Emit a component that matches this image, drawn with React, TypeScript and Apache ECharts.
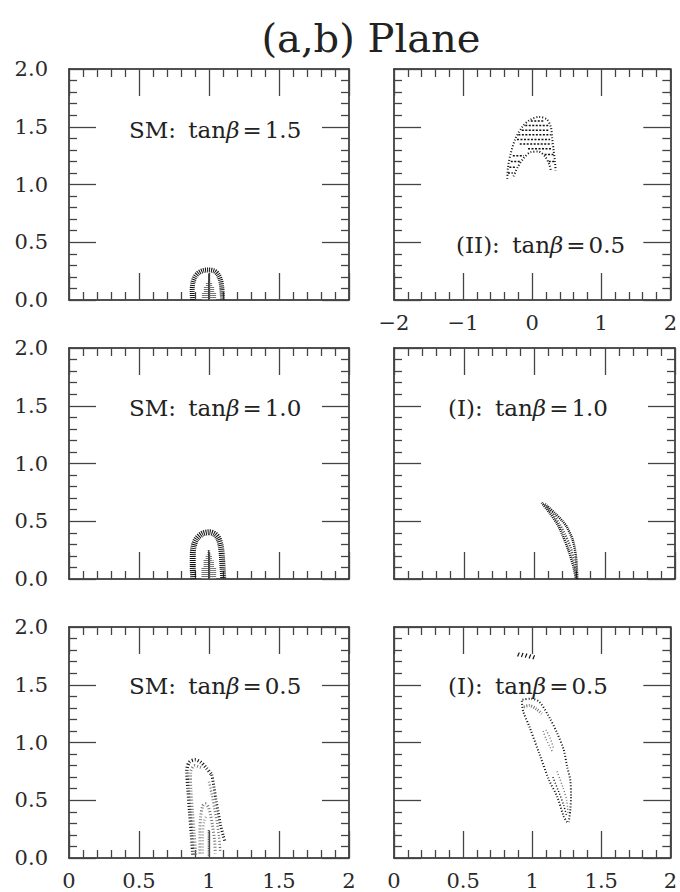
import React, { useEffect, useRef } from 'react';
import * as echarts from 'echarts';

const TITLE = '(a,b) Plane';
const PANEL_LABELS = ['SM:', '(II):', 'SM:', '(I):', 'SM:', '(I):'];
const PANEL_TANB = ['1.5', '0.5', '1.0', '1.0', '0.5', '0.5'];

// Panel 1: SM tanβ = 1.5
const SM15_ARCH = [[0.882, 0], [0.880, 0.08], [0.885, 0.15], [0.90, 0.20], [0.925, 0.235], [0.96, 0.255], [1.0, 0.26], [1.04, 0.25], [1.065, 0.22], [1.083, 0.17], [1.092, 0.10], [1.097, 0]];
const SM15_CORE_X = [0.958, 0.972, 0.986, 1.0, 1.014, 1.028, 1.042];
const SM15_CORE_TOP = [0.07, 0.12, 0.15, 0.16, 0.15, 0.12, 0.06];
const SM15_SPINE = [[0.998, 0], [0.998, 0.23]];

// Panel 2: (II) tanβ = 0.5
const II05_OUTER = [[-0.36, 1.05], [-0.35, 1.15], [-0.31, 1.27], [-0.24, 1.40], [-0.14, 1.50], [-0.03, 1.56], [0.10, 1.585], [0.21, 1.565], [0.27, 1.50], [0.29, 1.40], [0.31, 1.30], [0.33, 1.20], [0.34, 1.12]];
const II05_INNER = [[-0.27, 1.07], [-0.21, 1.15], [-0.12, 1.23], [-0.02, 1.28], [0.09, 1.285], [0.19, 1.24], [0.25, 1.17], [0.27, 1.12]];
const II05_ROW_Y = [1.55, 1.51, 1.47, 1.43, 1.39, 1.35, 1.31, 1.25, 1.20, 1.15, 1.10, 1.26, 1.20];
const II05_ROW_X0 = [-0.02, -0.10, -0.15, -0.20, -0.22, -0.18, -0.06, -0.28, -0.31, -0.33, -0.35, 0.18, 0.24];
const II05_ROW_X1 = [0.18, 0.24, 0.25, 0.27, 0.26, 0.28, 0.29, -0.12, -0.18, -0.23, -0.28, 0.31, 0.32];

// Panel 3: SM tanβ = 1.0
const SM10_ARCH = [[0.888, 0], [0.884, 0.1], [0.884, 0.2], [0.89, 0.28], [0.91, 0.345], [0.95, 0.39], [1.0, 0.405], [1.04, 0.39], [1.068, 0.35], [1.085, 0.28], [1.092, 0.2], [1.097, 0.1], [1.102, 0]];
const SM10_CORE_X = [0.955, 0.97, 0.985, 0.998, 1.012, 1.027, 1.042];
const SM10_CORE_TOP = [0.10, 0.17, 0.21, 0.25, 0.21, 0.16, 0.10];
const SM10_SPINE = [[0.998, 0], [0.998, 0.25]];

// Panel 4: (I) tanβ = 1.0
const I10_LEFT = [[1.051, 0.66], [1.11, 0.569], [1.16, 0.48], [1.194, 0.396], [1.241, 0.251], [1.277, 0.107], [1.295, 0]];
const I10_MID = [[1.06, 0.655], [1.13, 0.565], [1.18, 0.47], [1.215, 0.39], [1.255, 0.28], [1.285, 0.14], [1.30, 0]];
const I10_RIGHT = [[1.075, 0.649], [1.146, 0.569], [1.20, 0.50], [1.229, 0.453], [1.272, 0.338], [1.295, 0.193], [1.305, 0]];

// Panel 5: SM tanβ = 0.5
const SM05_OUTER = [[0.885, 0.03], [0.875, 0.2], [0.862, 0.4], [0.85, 0.6], [0.842, 0.76], [0.86, 0.83], [0.9, 0.85], [0.94, 0.83], [0.98, 0.78], [1.02, 0.72]];
const SM05_LEFT2 = [[0.905, 0.03], [0.895, 0.2], [0.882, 0.4], [0.87, 0.6], [0.868, 0.74], [0.9, 0.8], [0.95, 0.78]];
const SM05_RIGHT = [[1.02, 0.72], [1.035, 0.62], [1.05, 0.5], [1.065, 0.4], [1.08, 0.3], [1.1, 0.2], [1.115, 0.14]];
const SM05_RIGHT2 = [[1.0, 0.66], [1.02, 0.55], [1.04, 0.42], [1.058, 0.3], [1.072, 0.18], [1.08, 0.06]];
const SM05_INNER = [[0.935, 0.04], [0.935, 0.2], [0.94, 0.35], [0.955, 0.45], [0.975, 0.47], [0.995, 0.44], [1.01, 0.38], [1.025, 0.28], [1.04, 0.15], [1.045, 0.04]];
const SM05_INNER2 = [[0.955, 0.04], [0.955, 0.18], [0.965, 0.32], [0.98, 0.36]];
const SM05_SPINE = [[0.998, 0], [0.998, 0.25]];

// Panel 6: (I) tanβ = 0.5
const I05_MARK_X = [0.895, 0.922, 0.95, 0.978, 1.005];
const I05_MARK_Y = [1.745, 1.74, 1.735, 1.728, 1.72];
const I05_LEFT = [[0.925, 1.36], [0.935, 1.27], [0.98, 1.137], [1.051, 0.906], [1.122, 0.675], [1.181, 0.531], [1.229, 0.358], [1.253, 0.31]];
const I05_RIGHT = [[0.93, 1.37], [0.99, 1.38], [1.051, 1.353], [1.122, 1.223], [1.181, 1.08], [1.229, 0.935], [1.253, 0.79], [1.276, 0.675], [1.281, 0.531], [1.276, 0.416], [1.265, 0.31]];
const I05_TOP = [[0.94, 1.31], [0.98, 1.32], [1.03, 1.29], [1.07, 1.25]];
const I05_INNER_A = [[1.08, 1.10], [1.10, 1.03], [1.13, 0.96], [1.15, 0.91]];
const I05_INNER_B = [[1.10, 1.11], [1.13, 1.04], [1.155, 0.95]];
const I05_LOW_A = [[1.15, 0.70], [1.19, 0.58], [1.23, 0.45], [1.25, 0.36]];
const I05_LOW_B = [[1.18, 0.75], [1.22, 0.62], [1.25, 0.50], [1.26, 0.38]];

const FONT = 'DejaVu Serif';
const GRID_LEFT = [69, 394];
const GRID_WIDTH = [280, 281];
const GRID_TOP = [69, 348, 627];
const GRID_HEIGHT = 231;

function stroke(grid: number, data: number[][], color: string, width: number, dash: number[], smooth = 0.3) {
  return {
    type: 'line', xAxisIndex: grid * 2, yAxisIndex: grid * 2, data, symbol: 'none', silent: true,
    smooth, lineStyle: { color, width, type: dash, cap: 'butt' }, z: 3,
  };
}

function buildOption() {
  const grids: any[] = [];
  const xAxes: any[] = [];
  const yAxes: any[] = [];
  const frame = { show: true, onZero: false, lineStyle: { color: '#1a1a1a', width: 1.5 } };
  const tick = { show: true, inside: true, length: 27, lineStyle: { color: '#444', width: 1.3 } };
  const minor = { show: true, splitNumber: 5, length: 8, lineStyle: { color: '#444', width: 1.3 } };
  const fmtX = (v: number) => (v < 0 ? '\u2212' + String(-v) : String(v));
  for (let g = 0; g < 6; g++) {
    const row = Math.floor(g / 2);
    const col = g % 2;
    grids.push({ left: GRID_LEFT[col], width: GRID_WIDTH[col], top: GRID_TOP[row], height: GRID_HEIGHT });
    const wide = g === 1;
    const showX = g === 1 || g === 4 || g === 5;
    const showY = col === 0;
    for (const pos of ['bottom', 'top']) {
      xAxes.push({
        type: 'value', gridIndex: g, position: pos, min: wide ? -2 : 0, max: 2, interval: wide ? 1 : 0.5,
        axisLine: frame, axisTick: tick, minorTick: minor, splitLine: { show: false }, minorSplitLine: { show: false },
        axisLabel: {
          show: pos === 'bottom' && showX, margin: 12, fontFamily: FONT, fontSize: 21, color: '#2a2a2a',
          formatter: fmtX, showMinLabel: true, showMaxLabel: true,
        },
      });
    }
    for (const pos of ['left', 'right']) {
      yAxes.push({
        type: 'value', gridIndex: g, position: pos, min: 0, max: 2, interval: 0.5,
        axisLine: frame, axisTick: tick, minorTick: minor, splitLine: { show: false }, minorSplitLine: { show: false },
        axisLabel: {
          show: pos === 'left' && showY, margin: 21, fontFamily: FONT, fontSize: 21, color: '#2a2a2a',
          formatter: (v: number) => v.toFixed(1), showMinLabel: true, showMaxLabel: true,
        },
      });
    }
  }

  const dark = '#111';
  const gray = '#777';
  const series: any[] = [];
  // Panel 1
  series.push(stroke(0, SM15_ARCH, dark, 5, [1, 1]));
  SM15_CORE_X.forEach((x, i) => series.push(stroke(0, [[x, 0], [x, SM15_CORE_TOP[i]]], gray, 2.5, [1, 1], 0)));
  series.push(stroke(0, SM15_SPINE, '#333', 1.2, [1, 0], 0));
  // Panel 2
  series.push(stroke(1, II05_OUTER, dark, 2, [1, 2]));
  series.push(stroke(1, II05_INNER, dark, 2, [1, 2]));
  II05_ROW_Y.forEach((y, i) => series.push(stroke(1, [[II05_ROW_X0[i], y], [II05_ROW_X1[i], y]], dark, 1.5, [2, 1.5], 0)));
  // Panel 3
  series.push(stroke(2, SM10_ARCH, dark, 6, [1, 1]));
  SM10_CORE_X.forEach((x, i) => series.push(stroke(2, [[x, 0], [x, SM10_CORE_TOP[i]]], gray, 2.5, [1, 1], 0)));
  series.push(stroke(2, SM10_SPINE, '#333', 1.2, [1, 0], 0));
  // Panel 4
  series.push(stroke(3, I10_LEFT, dark, 2.5, [1, 1]));
  series.push(stroke(3, I10_MID, '#444', 2.5, [1, 1.5]));
  series.push(stroke(3, I10_RIGHT, dark, 2.5, [1, 1]));
  // Panel 5
  series.push(stroke(4, SM05_OUTER, dark, 3.5, [1, 2]));
  series.push(stroke(4, SM05_LEFT2, gray, 3, [1, 2]));
  series.push(stroke(4, SM05_RIGHT, dark, 3, [1, 2]));
  series.push(stroke(4, SM05_RIGHT2, gray, 2.5, [1, 2]));
  series.push(stroke(4, SM05_INNER, gray, 3, [1, 2]));
  series.push(stroke(4, SM05_INNER2, '#999', 2.5, [1, 2]));
  series.push(stroke(4, SM05_SPINE, '#555', 2, [1, 0.8], 0));
  // Panel 6
  I05_MARK_X.forEach((x, i) => series.push(stroke(5, [[x, I05_MARK_Y[i]], [x + 0.012, I05_MARK_Y[i] + 0.035]], dark, 1.2, [1, 0], 0)));
  series.push(stroke(5, I05_LEFT, dark, 2, [1, 2]));
  series.push(stroke(5, I05_RIGHT, dark, 2, [1, 2]));
  series.push(stroke(5, I05_TOP, gray, 3, [1, 1.5]));
  series.push(stroke(5, I05_INNER_A, gray, 1.5, [1, 2]));
  series.push(stroke(5, I05_INNER_B, gray, 1.5, [1, 2]));
  series.push(stroke(5, I05_LOW_A, dark, 1.5, [1, 2]));
  series.push(stroke(5, I05_LOW_B, gray, 1.5, [1, 2]));

  const labelPos = [[129, 130], [456, 245], [129, 408], [448, 408], [129, 686], [448, 686]];
  const graphic: any[] = [
    {
      type: 'text', x: 371, y: 38, silent: true,
      style: { text: TITLE, font: `40px "${FONT}"`, fill: '#222', align: 'center', verticalAlign: 'middle' },
    },
  ];
  const txt = { fontFamily: FONT, fontSize: 23, fill: '#222' };
  labelPos.forEach((p, i) => {
    graphic.push({
      type: 'text', x: p[0], y: p[1], silent: true, z: 10,
      style: {
        text: `{r|${PANEL_LABELS[i]} }{s|tan}{b|\u03B2}{e|=}{r|${PANEL_TANB[i]}}`,
        verticalAlign: 'middle', align: 'left',
        rich: {
          r: txt,
          s: { ...txt, padding: [0, 0, 0, 5] },
          e: { ...txt, padding: [0, 3, 0, 3] },
          b: { ...txt, fontStyle: 'italic' },
        },
      },
    });
  });

  return {
    animation: false,
    backgroundColor: '#fff',
    grid: grids,
    xAxis: xAxes,
    yAxis: yAxes,
    series,
    graphic,
  };
}

export default function App() {
  const ref = useRef<HTMLDivElement>(null);
  useEffect(() => {
    if (!ref.current) return;
    const chart = echarts.init(ref.current, undefined, { renderer: 'svg' });
    chart.setOption(buildOption() as any);
    return () => chart.dispose();
  }, []);
  return <div ref={ref} style={{ position: 'absolute', left: 0, top: 0, width: 680, height: 892 }} />;
}
